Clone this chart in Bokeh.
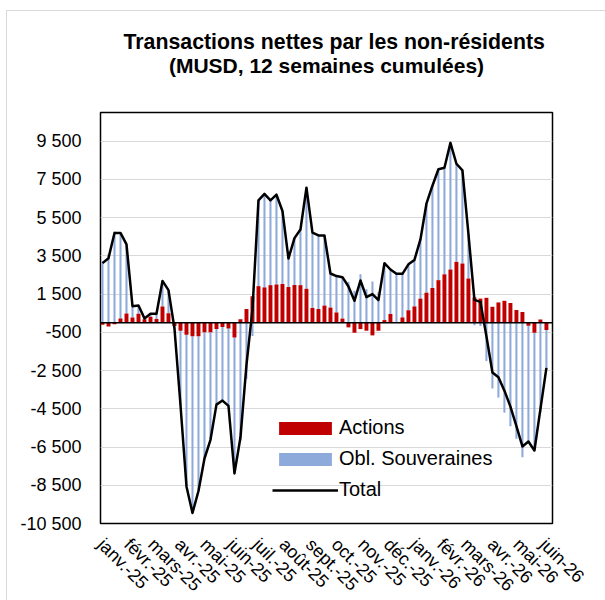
import numpy as np
import pandas as pd
from bokeh.plotting import figure
from bokeh.models import Range1d, FixedTicker, Span, Legend, LegendItem, Title
from bokeh.embed import file_html
from bokeh.resources import INLINE

# ---- data (weekly, 12-week cumulated, MUSD) ----
first_week = "2025-01-03"
n_weeks = 75
dates = pd.date_range(first_week, periods=n_weeks, freq="7D")

actions = [-100, -200, -80, 230, 490, 280, 470, 180, 315, 200,
           850, 500, -170, -416, -620, -710, -710, -490, -490, -320,
           -220, -300, -770, 185, 725, 1394, 1916, 1850, 1968, 2003,
           2030, 1870, 1975, 1968, 1777, 775, 720, 900, 795, 540,
           220, -240, -520, -330, -416, -660, -416, 141, 460, 30,
           280, 655, 855, 1265, 1575, 1820, 2229, 2535, 2786, 3186,
           3100, 2316, 1330, 1265, 1305, 837, 1064, 1150, 1030, 663,
           570, -150, -520, 176, -381]

obligations = [3220, 3580, 4780, 4470, 3610, 590, 430, 50, 155, 270,
               1340, 1210, -130, -3884, -7940, -9240, -8090, -6610, -5630, -3960,
               -3850, -4050, -7110, -6175, -2925, -694, 4484, 4890, 4437, 4697,
               3820, 1490, 2455, 2912, 5290, 3945, 3850, 3670, 1783, 1905,
               2165, 2140, 1670, 2540, 1756, 2158, 1601, 2976, 2327, 2530,
               2280, 2401, 2435, 3095, 4655, 5350, 5801, 5575, 6624, 5134,
               4870, 2334, -130, -170, -2005, -3437, -3914, -4700, -5415, -6063,
               -7040, -6060, -6160, -4696, -1979]

total = [3120, 3380, 4700, 4700, 4100, 870, 900, 230, 470, 470,
         2190, 1710, -300, -4300, -8560, -9950, -8800, -7100, -6120, -4280,
         -4070, -4350, -7880, -5990, -2200, 700, 6400, 6740, 6405, 6700,
         5850, 3360, 4430, 4880, 7067, 4720, 4570, 4570, 2578, 2445,
         2385, 1900, 1150, 2210, 1340, 1498, 1185, 3117, 2787, 2560,
         2560, 3056, 3290, 4360, 6230, 7170, 8030, 8110, 9410, 8320,
         7970, 4650, 1200, 1095, -700, -2600, -2850, -3550, -4385, -5400,
         -6470, -6210, -6680, -4520, -2360]

month_labels = ["janv.-25", "févr.-25", "mars-25", "avr.-25", "mai-25", "juin-25",
                "juil.-25", "août-25", "sept.-25", "oct.-25", "nov.-25", "déc.-25",
                "janv.-26", "févr.-26", "mars-26", "avr.-26", "mai-26", "juin-26"]
month_starts = pd.date_range("2025-01-01", periods=len(month_labels), freq="MS")

y_ticks = [-10500, -8500, -6500, -4500, -2500, -500, 1500, 3500, 5500, 7500, 9500]
y_labels = ["-10 500", "-8 500", "-6 500", "-4 500", "-2 500", "-500",
            "1 500", "3 500", "5 500", "7 500", "9 500"]

title_lines = ["Transactions nettes par les non-résidents",
               "(MUSD, 12 semaines cumulées)"]

FONT = "Liberation Sans"

# ---- positions ----
x = np.array((dates - dates[0]).days, dtype=float)
tick_x = [int(d) for d in (month_starts - dates[0]).days]

a = np.array(actions, dtype=float)
b = np.array(obligations, dtype=float)
blue_bottom = np.where(np.sign(a) == np.sign(b), a, 0.0)
blue_top = blue_bottom + b

p = figure(frame_width=452, frame_height=411,
           min_border_left=100, min_border_right=53,
           min_border_top=112, min_border_bottom=77,
           x_range=Range1d(-2.33, 525.1), y_range=Range1d(-10500, 11000),
           output_backend="svg", toolbar_location=None)

# title: spacer panel next to the frame, then line 2, then line 1
p.title = None
p.add_layout(Title(text=" ", text_font_size="2px", standoff=32), "above")
p.add_layout(Title(text=title_lines[1], align="center", text_font=FONT,
                   text_font_size="21px", text_font_style="bold",
                   text_color="black", standoff=0), "above")
p.add_layout(Title(text=title_lines[0], align="left", offset=23, text_font=FONT,
                   text_font_size="21.3px", text_font_style="bold",
                   text_color="black", standoff=-4), "above")

r_blue = p.vbar(x=x, width=2.4, bottom=blue_bottom, top=blue_top,
                fill_color="#8EAADB", line_color=None)
r_red = p.vbar(x=x, width=4.6, bottom=0, top=a,
               fill_color="#C00000", line_color=None)
r_line = p.line(x=x, y=total, line_color="black", line_width=2.5, line_join="round")

p.add_layout(Span(location=0, dimension="width", line_color="black", line_width=1.5))

p.outline_line_color = "black"
p.outline_line_width = 1.5
p.xgrid.grid_line_color = None
p.ygrid.grid_line_color = "#D9D9D9"
p.ygrid.grid_line_width = 1.2

p.yaxis.ticker = FixedTicker(ticks=y_ticks)
p.yaxis.major_label_overrides = dict(zip(y_ticks, y_labels))
p.xaxis.ticker = FixedTicker(ticks=tick_x)
p.xaxis.major_label_overrides = dict(zip(tick_x, month_labels))
p.xaxis.major_label_orientation = -np.pi / 4

for ax in (p.xaxis[0], p.yaxis[0]):
    ax.axis_line_color = None
    ax.major_tick_line_color = None
    ax.minor_tick_line_color = None
    ax.major_label_text_font = FONT
    ax.major_label_text_font_size = "18px"
    ax.major_label_text_color = "black"
p.yaxis.major_label_standoff = 13
p.xaxis.major_label_standoff = 12

legend = Legend(items=[LegendItem(label="Actions", renderers=[r_red]),
                       LegendItem(label="Obl. Souveraines", renderers=[r_blue]),
                       LegendItem(label="Total", renderers=[r_line])],
                location=(172, 22), glyph_width=66, glyph_height=16,
                label_standoff=1, spacing=8, padding=0, margin=0,
                label_height=20, label_text_font=FONT, label_text_font_size="20px",
                label_text_color="black", border_line_color=None,
                background_fill_alpha=0)
p.add_layout(legend)

p.background_fill_color = "white"
p.border_fill_alpha = 0
# thin light-grey chart-area border (top and left edges) behind the transparent border fill
p.styles = {"background": "linear-gradient(#D9D9D9, #D9D9D9) 6px 10px / 1px 600px no-repeat, "
                          "linear-gradient(#D9D9D9, #D9D9D9) 6px 10px / 620px 1px no-repeat, white"}

open("out.html", "w").write(file_html(p, INLINE))
